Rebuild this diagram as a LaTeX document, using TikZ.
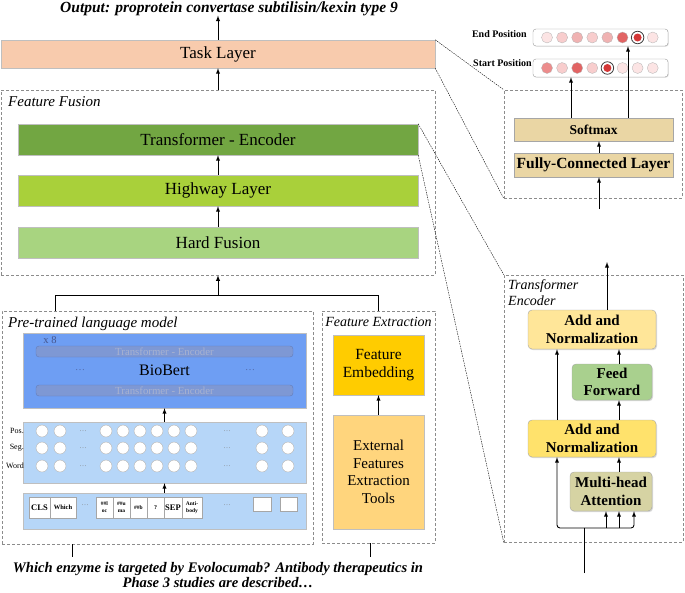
\documentclass[tikz,border=0pt]{standalone}
\usepackage{fontspec}
\setmainfont{Liberation Serif}
\usepackage{tikz}
\usepackage{xcolor}
\usetikzlibrary{calc,shadows}

\definecolor{taskc}{RGB}{248,203,173}
\definecolor{trc}{RGB}{114,166,66}
\definecolor{hwc}{RGB}{169,208,58}
\definecolor{hfc}{RGB}{168,212,128}
\definecolor{bioc}{RGB}{110,158,243}
\definecolor{barc}{RGB}{126,152,212}
\definecolor{bardc}{RGB}{100,125,185}
\definecolor{bartxt}{RGB}{168,178,208}
\definecolor{xec}{RGB}{70,85,140}
\definecolor{embc}{RGB}{182,214,248}
\definecolor{fec}{RGB}{255,204,0}
\definecolor{exc}{RGB}{255,213,125}
\definecolor{smc}{RGB}{234,214,164}
\definecolor{anac}{RGB}{255,230,153}
\definecolor{anbc}{RGB}{255,226,108}
\definecolor{ffc}{RGB}{169,208,142}
\definecolor{mhc}{RGB}{214,211,163}
\definecolor{ra}{RGB}{252,228,228}
\definecolor{rb}{RGB}{248,205,205}
\definecolor{rc}{RGB}{240,178,178}
\definecolor{rd}{RGB}{236,140,140}
\definecolor{re}{RGB}{226,100,100}
\definecolor{rf}{RGB}{212,55,55}

\begin{document}
\begin{tikzpicture}[x=1pt,y=-1pt]
        \tikzstyle{every node}=[inner sep=0pt]
        \tikzstyle{blk}=[draw=black!25, line width=0.4pt, minimum height=31pt,
            drop shadow={shadow xshift=1pt,shadow yshift=-1.2pt,opacity=0.3}]
        \tikzstyle{grpbox}=[draw=black!45, dash pattern=on 3pt off 2pt, line width=0.6pt]
        \tikzstyle{zoomln}=[dash pattern=on 1.5pt off 1pt, line width=0.4pt]
        \tikzstyle{arr}=[-latex, line width=0.9pt]
        \tikzstyle{embdot}=[circle, draw=black!30, fill=white, minimum size=12pt]
        \tikzstyle{tokbox}=[draw=black!35, fill=white, minimum height=21pt, align=center]
        \tikzstyle{posdot}=[circle, draw=black!30, line width=0.3pt, minimum size=11pt]
        \tikzstyle{encbar}=[rounded corners=3pt, draw=bardc, fill=barc, text=bartxt,
            minimum width=257pt, minimum height=11pt, font=\fontsize{10.8}{12}\selectfont]
        \tikzstyle{encblk}=[blk, rounded corners=4pt, draw=black!35, align=center,
            font=\bfseries\fontsize{15}{17.5}\selectfont]
        \useasboundingbox (0,0) rectangle (685,592);

        % left column
        \node[font=\bfseries\itshape\fontsize{15.5}{18}\selectfont, anchor=base] (1) at (229,12)
            {Output: proprotein convertase subtilisin/kexin type 9};
        \node[blk, fill=taskc, minimum width=434pt, minimum height=28pt,
            font=\fontsize{17}{20}\selectfont] (2) at (218,54) {Task Layer};
        \node[grpbox, minimum width=434pt, minimum height=185pt] (3) at (218,182.5) {};
        \node[anchor=west, font=\itshape\fontsize{15}{18}\selectfont] (3l) at (8,102) {Feature Fusion};
        \node[blk, fill=trc, minimum width=400pt, font=\fontsize{17}{20}\selectfont] (4) at (218,139.5)
            {Transformer - Encoder};
        \node[blk, fill=hwc, minimum width=400pt, font=\fontsize{17}{20}\selectfont] (5) at (218,190.5)
            {Highway Layer};
        \node[blk, fill=hfc, minimum width=400pt, font=\fontsize{17}{20}\selectfont] (6) at (218,242.5)
            {Hard Fusion};

        \draw[arr] (2.north) to (2.north |- 1.south);
        \draw[arr] (3.north) to (2.south);
        \draw[arr] (5.north) to (4.south);
        \draw[arr] (6.north) to (5.south);

        \node[grpbox, minimum width=311pt, minimum height=233pt] (7) at (157.5,427.5) {};
        \node[anchor=west, font=\itshape\fontsize{15}{18}\selectfont] (7l) at (8,324)
            {Pre-trained language model};
        \node[grpbox, minimum width=113pt, minimum height=232pt] (8) at (378.5,427) {};
        \node[font=\itshape\fontsize{14}{16}\selectfont] (8l) at (378.5,322) {Feature Extraction};

        \coordinate (15) at (218,296);
        \draw[line width=0.9pt] ($(7.north)+(-102.5,0)$) -- ++(0,-15) -| (8.north);
        \draw[arr] (15) to (3.south);

        % BioBert
        \node[blk, fill=bioc, minimum width=283pt, minimum height=75pt,
            font=\fontsize{16}{18}\selectfont] (9) at (164.5,370.5) {BioBert};
        \node[encbar] (9a) at (164.5,351.5) {Transformer - Encoder};
        \node[encbar] (9b) at (164.5,390.5) {Transformer - Encoder};
        \node[text=xec, font=\fontsize{10.5}{12}\selectfont] (9c) at (50,340) {x 8};
        \node[text=xec!70!bioc, font=\fontsize{10}{12}\selectfont] (9d) at (80,370) {\ldots};
        \node[text=xec!70!bioc, font=\fontsize{10}{12}\selectfont] (9e) at (250,370) {\ldots};

        % embeddings
        \node[blk, fill=embc, minimum width=283pt, minimum height=61pt] (10) at (164.5,452.5) {};
        \foreach \t/\y in {Pos./431, Seg./448, Word/466}{
            \node[anchor=east, font=\fontsize{8}{9}\selectfont] (l\y) at (24,\y) {\t};
            \foreach \x in {42,60,106,123,140,157,174,191,262,288}
                \node[embdot] (c\x-\y) at (\x,\y) {};
            \node[text=black!50, font=\fontsize{7}{8}\selectfont] (da\y) at (83,\y) {\ldots};
            \node[text=black!50, font=\fontsize{7}{8}\selectfont] (db\y) at (227,\y) {\ldots};
        }

        % tokens
        \node[blk, fill=embc, minimum width=283pt, minimum height=36pt] (11) at (164.5,511) {};
        \foreach \a/\b/\s/\t in {29/50/8.5/CLS, 50/76/6.5/Which, 96/113/5.5/{\#\#l\\oc},
                113/130/5.5/{\#\#u\\ma}, 130/147/5.5/{\#\#b}, 147/164/6/?, 164/182/8.5/SEP,
                182/202/5.5/{Anti-\\body}}
            \node[tokbox, minimum width={(\b-\a)*1pt}, font=\bfseries\fontsize{\s}{7}\selectfont]
                (t\a) at ({(\a+\b)/2},507.5) {\t};
        \node[text=black!50, font=\fontsize{7}{8}\selectfont] (t1) at (85,505) {\ldots};
        \node[text=black!50, font=\fontsize{7}{8}\selectfont] (t2) at (227,505) {\ldots};
        \node[tokbox, minimum width=18pt, minimum height=14pt] (t3) at (262,504) {};
        \node[tokbox, minimum width=17pt, minimum height=14pt] (t4) at (288.5,504) {};

        \draw[arr] (10.north) to (9.south);
        \draw[arr] (11.north) to (10.south);

        % feature extraction
        \node[blk, fill=fec, minimum width=91pt, minimum height=60pt, align=center,
            font=\fontsize{15.5}{18}\selectfont] (12) at (378.5,365) {Feature\\Embedding};
        \node[blk, fill=exc, minimum width=91pt, minimum height=114pt, align=center,
            font=\fontsize{15}{17.5}\selectfont] (13) at (378.5,472) {External\\Features\\Extraction\\Tools};
        \draw[arr] (13.north) to (12.south);

        % input
        \coordinate (16) at (72,557);
        \coordinate (17) at (370,557);
        \draw[line width=0.9pt] (7.south -| 16) to (16);
        \draw[line width=0.9pt] (8.south -| 17) to (17);
        \node[align=center, font=\bfseries\itshape\fontsize{14.6}{15}\selectfont] (14) at (218,575)
            {Which enzyme is targeted by Evolocumab? Antibody therapeutics in\\Phase 3 studies are described\ldots};

        % task layer detail
        \node[anchor=east, font=\bfseries\fontsize{10}{12}\selectfont] (20) at (527,34) {End Position};
        \node[anchor=east, font=\bfseries\fontsize{10}{12}\selectfont] (21) at (532,63) {Start Position};
        \node[draw=black!40, fill=white, rounded corners=3pt, minimum width=135pt, minimum height=17pt,
            drop shadow={shadow xshift=0.8pt,shadow yshift=-0.8pt,opacity=0.2}] (22) at (600.5,37.5) {};
        \node[draw=black!40, fill=white, rounded corners=3pt, minimum width=135pt, minimum height=18pt,
            drop shadow={shadow xshift=0.8pt,shadow yshift=-0.8pt,opacity=0.2}] (23) at (600.5,68) {};
        \foreach \c/\f [count=\i from 0] in {ra/0, rb/0, rc/0, rb/0, rc/0, re/0, rf/1, ra/0}{
            \ifnum\f=1
                \node[circle, draw=black!75, line width=0.8pt, minimum size=12.5pt] (er\i) at ({547+15.1*\i},37.5) {};
                \node[circle, fill=\c, minimum size=8pt] (e\i) at ({547+15.1*\i},37.5) {};
            \else
                \node[posdot, fill=\c] (e\i) at ({547+15.1*\i},37.5) {};
            \fi
        }
        \foreach \c/\f [count=\i from 0] in {rd/0, rb/0, re/0, rb/0, rf/1, ra/0, ra/0, ra/0}{
            \ifnum\f=1
                \node[circle, draw=black!75, line width=0.8pt, minimum size=12.5pt] (sr\i) at ({547+15.1*\i},68) {};
                \node[circle, fill=\c, minimum size=8pt] (s\i) at ({547+15.1*\i},68) {};
            \else
                \node[posdot, fill=\c] (s\i) at ({547+15.1*\i},68) {};
            \fi
        }
        \node[grpbox, minimum width=178pt, minimum height=108pt] (24) at (593,144) {};
        \node[blk, fill=smc, draw=black!35, minimum width=159pt, minimum height=23pt,
            font=\bfseries\fontsize{13.5}{16}\selectfont] (25) at (593.5,129.5) {Softmax};
        \node[blk, fill=smc, draw=black!35, minimum width=159pt, minimum height=24pt,
            font=\bfseries\fontsize{15.5}{18}\selectfont] (26) at (593.5,165) {Fully-Connected Layer};
        \coordinate (27) at (599,209);
        \coordinate (28) at (571,100);
        \coordinate (29) at (628,100);
        \draw[arr] (27) to (26.south -| 27);
        \draw[arr] (26.north -| 27) to (25.south -| 27);
        \draw[arr] (25.north -| 28) to (23.south -| 28);
        \draw[arr] (25.north -| 29) to (22.south -| 29);

        % transformer encoder detail
        \node[grpbox, minimum width=179pt, minimum height=267pt] (30) at (593.5,408.5) {};
        \node[anchor=north west, align=left, font=\itshape\fontsize{14}{16}\selectfont] (30l) at (508,279)
            {Transformer\\Encoder};
        \node[encblk, fill=anac, minimum width=128pt, minimum height=39pt] (31) at (592,329.5) {Add and\\Normalization};
        \node[encblk, fill=ffc, minimum width=80pt, minimum height=36pt] (32) at (612,382) {Feed\\Forward};
        \node[encblk, fill=anbc, minimum width=128pt, minimum height=37pt] (33) at (592,438.5) {Add and\\Normalization};
        \node[encblk, fill=mhc, minimum width=82pt, minimum height=39pt] (34) at (611,491.5) {Multi-head\\Attention};

        % zoom lines
        \draw[zoomln] (2.north east) to (24.north west);
        \draw[zoomln] (2.south east) to (24.south west);
        \draw[zoomln] (4.north east) to (30.north west);
        \draw[zoomln] (4.south east) to (30.south west);

        \coordinate (35) at (619,300);
        \coordinate (36) at (607,262);
        \coordinate (37) at (557,300);
        \coordinate (38) at (584,573);
        \coordinate (39) at (584,528);
        \coordinate (40) at (634,528);
        \coordinate (41) at (606,528);
        \draw[arr] (34.north -| 35) to (33.south -| 35);
        \draw[arr] (33.north -| 35) to (32.south -| 35);
        \draw[arr] (32.north -| 35) to (31.south -| 35);
        \draw[arr] (31.north -| 36) to (36);
        \draw[arr] (33.north -| 37) to (31.south -| 37);
        \draw[line width=0.9pt] (38) to (39);
        \draw[arr, rounded corners=3pt] (39) -| (33.south -| 37);
        \draw[arr, rounded corners=3pt] (39) -| (34.south -| 40);
        \draw[arr] (41) to (34.south -| 41);
        \draw[arr] (39 -| 35) to (34.south -| 35);
    \end{tikzpicture}
\end{document}
